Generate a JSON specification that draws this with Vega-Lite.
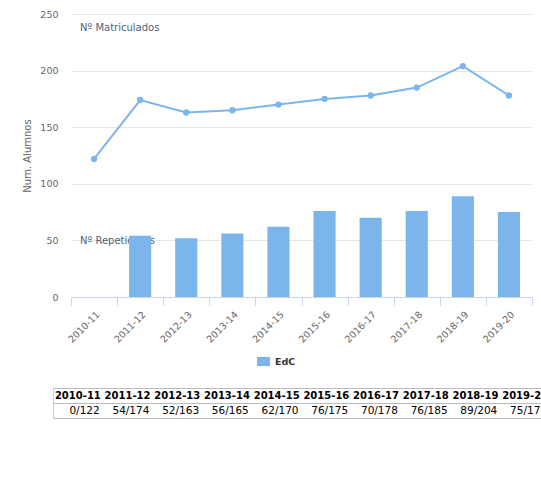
{
  "$schema": "https://vega.github.io/schema/vega-lite/v6.json",
  "padding": {"left": 22, "top": 9, "right": 0, "bottom": 0},
  "background": "white",
  "config": {
    "font": "DejaVu Sans",
    "view": {"stroke": null},
    "axis": {"labelColor": "#666666", "labelFontSize": 9.5, "titleColor": "#666666", "titleFontSize": 10, "titleFontWeight": "normal"},
    "axisY": {"domain": false, "ticks": false, "tickSize": 0, "gridColor": "#e6e6e6", "labelPadding": 13, "titlePadding": 7},
    "axisX": {"domainColor": "#ccd6eb", "tickColor": "#ccd6eb", "tickSize": 8, "tickBand": "extent", "labelAngle": -45, "labelPadding": 4, "grid": false}
  },
  "datasets": {
    "alumnos": [
      {"year": "2010-11", "rep": 0, "mat": 122, "label": "0/122", "serie": "EdC"},
      {"year": "2011-12", "rep": 54, "mat": 174, "label": "54/174", "serie": "EdC"},
      {"year": "2012-13", "rep": 52, "mat": 163, "label": "52/163", "serie": "EdC"},
      {"year": "2013-14", "rep": 56, "mat": 165, "label": "56/165", "serie": "EdC"},
      {"year": "2014-15", "rep": 62, "mat": 170, "label": "62/170", "serie": "EdC"},
      {"year": "2015-16", "rep": 76, "mat": 175, "label": "76/175", "serie": "EdC"},
      {"year": "2016-17", "rep": 70, "mat": 178, "label": "70/178", "serie": "EdC"},
      {"year": "2017-18", "rep": 76, "mat": 185, "label": "76/185", "serie": "EdC"},
      {"year": "2018-19", "rep": 89, "mat": 204, "label": "89/204", "serie": "EdC"},
      {"year": "2019-20", "rep": 75, "mat": 178, "label": "75/178", "serie": "EdC"}
    ]
  },
  "vconcat": [
    {
      "width": 461,
      "height": 283,
      "layer": [
        {
          "data": {"values": [{"text": "Nº Matriculados", "pos": 237.6}, {"text": "Nº Repetidores", "pos": 49.5}]},
          "mark": {"type": "text", "align": "left", "baseline": "middle", "dx": -14, "fontSize": 10, "color": "#506279"},
          "encoding": {
            "x": {"datum": "2010-11", "type": "nominal"},
            "y": {"field": "pos", "type": "quantitative", "axis": {"title": "Num. Alumnos", "values": [0, 50, 100, 150, 200, 250]}},
            "text": {"field": "text"}
          }
        },
        {
          "data": {"name": "alumnos"},
          "mark": {"type": "bar", "width": {"band": 0.48}},
          "encoding": {
            "x": {"field": "year", "type": "nominal", "sort": null, "title": null, "scale": {"type": "band", "paddingInner": 0, "paddingOuter": 0}},
            "y": {"field": "rep", "type": "quantitative", "scale": {"domain": [0, 250], "nice": false}, "axis": {"title": "Num. Alumnos", "values": [0, 50, 100, 150, 200, 250]}},
            "color": {
              "field": "serie", "type": "nominal",
              "scale": {"range": ["#7cb5ec"]},
              "legend": {"title": null, "orient": "none", "legendX": 186, "legendY": 341, "direction": "horizontal", "symbolType": "M-1,-0.7L1,-0.7L1,0.7L-1,0.7Z", "symbolSize": 169, "symbolStrokeWidth": 0, "labelFontSize": 9.5, "labelFontWeight": "bold", "labelColor": "#333333", "labelOffset": 5, "padding": 0}
            }
          }
        },
        {
          "data": {"name": "alumnos"},
          "mark": {"type": "line", "color": "#7cb5ec", "strokeWidth": 2, "point": {"filled": true, "size": 40, "color": "#7cb5ec"}},
          "encoding": {
            "x": {"field": "year", "type": "nominal", "sort": null, "title": null},
            "y": {"field": "mat", "type": "quantitative", "axis": {"title": "Num. Alumnos", "values": [0, 50, 100, 150, 200, 250]}}
          }
        }
      ]
    },
    {
      "width": 497,
      "height": 30,
      "data": {"name": "alumnos"},
      "view": {"stroke": "#cccccc"},
      "layer": [
        {
          "mark": {"type": "text", "fontWeight": "bold", "fontSize": 10, "color": "#000000"},
          "encoding": {
            "x": {"field": "year", "type": "nominal", "sort": null, "scale": {"type": "band", "paddingInner": 0, "paddingOuter": 0}, "axis": null},
            "y": {"datum": "h", "type": "nominal", "scale": {"type": "band", "domain": ["h", "v"], "paddingInner": 0, "paddingOuter": 0}, "axis": {"grid": true, "labels": false, "ticks": false, "domain": false, "title": null, "tickBand": "extent", "gridColor": "#bbbbbb"}},
            "text": {"field": "year"}
          }
        },
        {
          "mark": {"type": "text", "fontSize": 10.5, "color": "#000000", "align": "right", "dx": -3},
          "encoding": {
            "x": {"field": "year", "type": "nominal", "sort": null, "bandPosition": 1},
            "y": {"datum": "v", "type": "nominal"},
            "text": {"field": "label"}
          }
        }
      ]
    }
  ],
  "spacing": 91,
  "bounds": "flush",
  "center": true,
  "resolve": {
    "scale": {"x": "independent", "y": "independent", "color": "independent"},
    "axis": {"x": "independent", "y": "independent"},
    "legend": {"color": "independent"}
  }
}
